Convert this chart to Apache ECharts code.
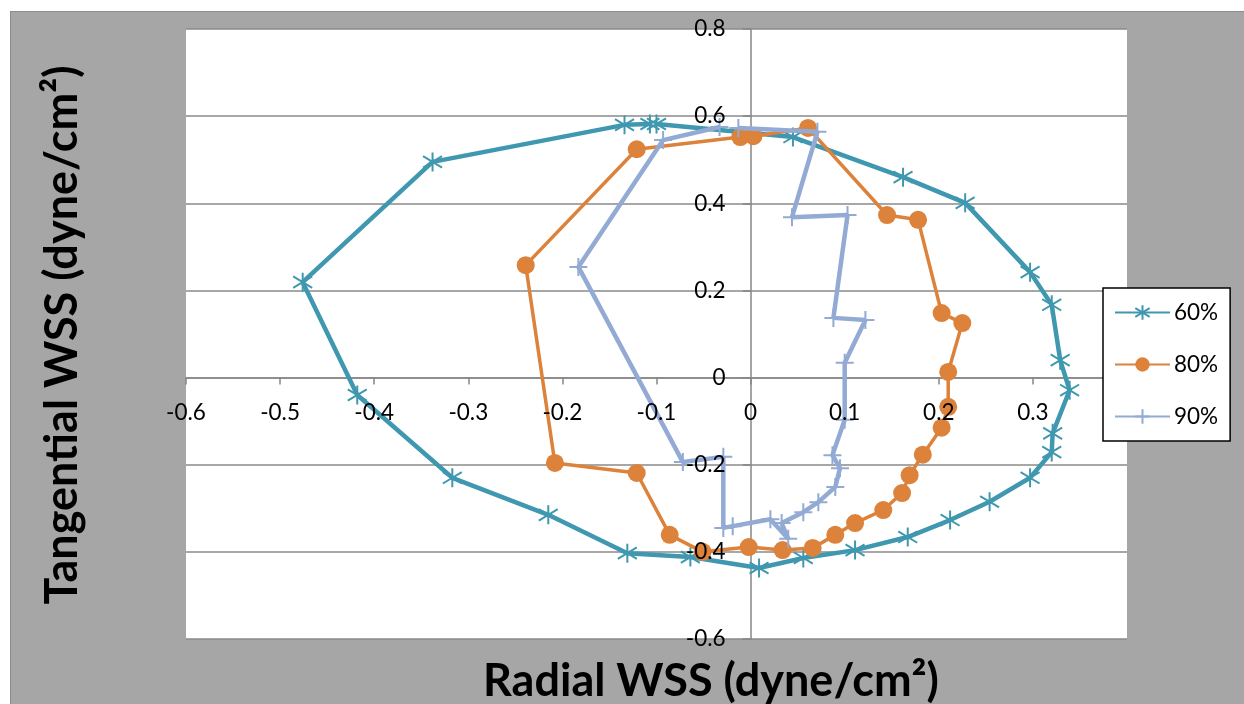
<!DOCTYPE html>
<html>
<head>
<meta charset="utf-8">
<script src="https://cdn.jsdelivr.net/npm/echarts@6/dist/echarts.min.js"></script>
<style>
  html, body { margin: 0; padding: 0; background: #ffffff; }
  #bg { position: absolute; left: 10px; top: 11px; width: 1234px; height: 693px; background: #a6a6a6;
        border-left: 1px solid #8c8c8c; border-top: 1px solid #8c8c8c; box-sizing: border-box; }
  #chart { position: absolute; left: 0; top: 0; width: 1244px; height: 704px; }
</style>
</head>
<body>
<div id="bg"></div>
<div id="chart"></div>
<script>
// ---- data (Radial WSS x, Tangential WSS y) ----
const seriesNames = ['60%', '80%', '90%'];

const x60 = [-0.100, 0.045, 0.162, 0.228, 0.297, 0.320, 0.329, 0.339, 0.321, 0.320, 0.297, 0.254, 0.212, 0.167, 0.111, 0.056, 0.009, -0.064, -0.131, -0.215, -0.317, -0.418, -0.476, -0.338, -0.134, -0.107];
const y60 = [0.582, 0.552, 0.460, 0.401, 0.242, 0.167, 0.040, -0.029, -0.128, -0.171, -0.230, -0.285, -0.327, -0.366, -0.396, -0.414, -0.437, -0.412, -0.403, -0.315, -0.230, -0.040, 0.219, 0.495, 0.580, 0.582];

const x80 = [0.003, 0.061, 0.145, 0.178, 0.203, 0.225, 0.210, 0.210, 0.203, 0.183, 0.169, 0.161, 0.141, 0.111, 0.090, 0.066, 0.034, -0.002, -0.051, -0.086, -0.121, -0.208, -0.239, -0.121, -0.011];
const y80 = [0.554, 0.573, 0.373, 0.362, 0.148, 0.125, 0.013, -0.067, -0.115, -0.177, -0.224, -0.265, -0.304, -0.334, -0.361, -0.391, -0.396, -0.389, -0.400, -0.361, -0.219, -0.196, 0.258, 0.524, 0.552];

const x90 = [-0.013, 0.071, 0.044, 0.103, 0.088, 0.122, 0.100, 0.100, 0.087, 0.095, 0.090, 0.072, 0.056, 0.033, 0.040, 0.021, -0.019, -0.029, -0.029, -0.072, -0.183, -0.093, -0.033];
const y90 = [0.573, 0.564, 0.368, 0.373, 0.137, 0.132, 0.034, -0.097, -0.178, -0.208, -0.251, -0.286, -0.309, -0.334, -0.370, -0.325, -0.341, -0.345, -0.182, -0.194, 0.254, 0.545, 0.575];

const xTitle = 'Radial WSS (dyne/cm\u00B2)';
const yTitle = 'Tangential WSS (dyne/cm\u00B2)';

const zip = (xs, ys) => xs.map((x, i) => [x, ys[i]]);

const cTeal = '#3f98b0';
const cOrange = '#dc823b';
const cBlue = '#92aad4';
const FONT = 'Lato';

const asteriskPath = 'path://M0,-10 L0,10 M-8.7,-6 L8.7,6 M-8.7,6 L8.7,-6';
const plusPath = 'path://M0,-10 L0,10 M-10,0 L10,0';

// grid layout
const G = { left: 186, top: 29, width: 941, height: 610 };
const X_MIN = -0.6, X_MAX = 0.4, Y_MIN = -0.6, Y_MAX = 0.8;
// pixel offsets that put the label-only axes on the zero lines
const yLabelOffset = -G.width * (0 - X_MIN) / (X_MAX - X_MIN);
const xLabelOffset = -G.height * (0 - Y_MIN) / (Y_MAX - Y_MIN);

const chart = echarts.init(document.getElementById('chart'), null, { renderer: 'canvas' });

const xBase = { type: 'value', min: X_MIN, max: X_MAX, interval: 0.1, gridIndex: 0 };
const yBase = { type: 'value', min: Y_MIN, max: Y_MAX, interval: 0.2, gridIndex: 0 };
const labelStyle = { color: '#000', fontSize: 22.5, fontFamily: FONT };

chart.setOption({
  animation: false,
  backgroundColor: 'transparent',
  grid: Object.assign({ show: true, backgroundColor: '#ffffff', borderWidth: 0 }, G),
  xAxis: [
    Object.assign({}, xBase, {
      position: 'bottom', z: 0,
      axisLine: { show: true, onZero: true, onZeroAxisIndex: 0, lineStyle: { color: '#878787', width: 1.5 } },
      axisTick: { show: true, length: 7, lineStyle: { color: '#878787', width: 1.5 } },
      axisLabel: { show: false },
      splitLine: { show: false }
    }),
    Object.assign({}, xBase, {
      position: 'bottom', z: 10, offset: xLabelOffset,
      axisLine: { show: false, onZero: false },
      axisTick: { show: false },
      axisLabel: Object.assign({ show: true, margin: 24, showMinLabel: true, showMaxLabel: false }, labelStyle),
      splitLine: { show: false }
    })
  ],
  yAxis: [
    Object.assign({}, yBase, {
      position: 'left', z: 0,
      axisLine: { show: true, onZero: true, onZeroAxisIndex: 0, lineStyle: { color: '#878787', width: 1.5 } },
      axisTick: { show: true, length: 8, lineStyle: { color: '#878787', width: 1.5 } },
      axisLabel: { show: false },
      splitLine: { show: true, lineStyle: { color: '#8a8a8a', width: 1.5 } }
    }),
    Object.assign({}, yBase, {
      position: 'left', z: 10, offset: yLabelOffset,
      axisLine: { show: false, onZero: false },
      axisTick: { show: false },
      axisLabel: Object.assign({ show: true, margin: 25, showMinLabel: true, showMaxLabel: true }, labelStyle),
      splitLine: { show: false }
    })
  ],
  legend: {
    orient: 'vertical',
    left: 1103, top: 288,
    padding: [13, 12, 13, 11],
    itemWidth: 55, itemHeight: 18, itemGap: 29,
    backgroundColor: '#ffffff',
    borderColor: '#000000', borderWidth: 1.5,
    textStyle: { color: '#000', fontSize: 22.5, fontFamily: FONT, padding: [0, 0, 0, -1] },
    data: seriesNames
  },
  series: [
    {
      name: seriesNames[0], type: 'line', xAxisIndex: 0, yAxisIndex: 0,
      data: zip(x60, y60), showAllSymbol: true,
      symbol: asteriskPath, symbolSize: 19,
      lineStyle: { color: cTeal, width: 4.5 },
      itemStyle: { color: cTeal, borderColor: cTeal, borderWidth: 2 },
      z: 2
    },
    {
      name: seriesNames[1], type: 'line', xAxisIndex: 0, yAxisIndex: 0,
      data: zip(x80, y80), showAllSymbol: true,
      symbol: 'circle', symbolSize: 18,
      lineStyle: { color: cOrange, width: 3.5 },
      itemStyle: { color: cOrange, borderWidth: 0 },
      z: 3
    },
    {
      name: seriesNames[2], type: 'line', xAxisIndex: 0, yAxisIndex: 0,
      data: zip(x90, y90), showAllSymbol: true,
      symbol: plusPath, symbolSize: 18,
      lineStyle: { color: cBlue, width: 4.5 },
      itemStyle: { color: cBlue, borderColor: cBlue, borderWidth: 2 },
      z: 4
    }
  ],
  graphic: [
    {
      type: 'text', x: 711, y: 681, z: 20,
      style: { text: xTitle, fill: '#000', font: 'bold 45px Lato', align: 'center', verticalAlign: 'middle' }
    },
    {
      type: 'text', x: 62, y: 335, rotation: Math.PI / 2, z: 20,
      style: { text: yTitle, fill: '#000', font: 'bold 45px Lato', align: 'center', verticalAlign: 'middle' }
    }
  ]
});
</script>
</body>
</html>
